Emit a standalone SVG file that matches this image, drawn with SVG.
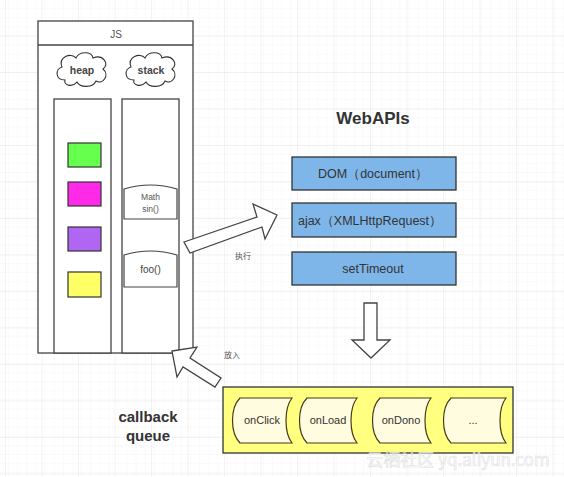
<svg xmlns="http://www.w3.org/2000/svg" width="564" height="477" viewBox="0 0 564 477">
<defs>
<pattern id="minor" width="9.1" height="9.1" patternUnits="userSpaceOnUse" x="0" y="0">
<path d="M9.1 0 V9.1 M0 9.1 H9.1" fill="none" stroke="#f4f4f4" stroke-width="0.8"/>
</pattern>
<pattern id="major" width="36.5" height="36.5" patternUnits="userSpaceOnUse" x="6" y="0">
<path d="M36.5 0 V36.5 M0 36.5 H36.5" fill="none" stroke="#e6e6e6" stroke-width="0.9"/>
</pattern>
<path id="cloud" d="M -17,10 C -27,10 -27,-1 -20,-3 C -24,-13 -11,-18 -6,-12 C -3,-19 10,-19 11,-12 C 21,-16 28,-6 21,-1 C 28,5 21,15 14,11 C 11,18 -2,18 -5,12 C -10,18 -19,15 -17,10 Z"/>
</defs>
<style>
.bg{fill:#ffffff}
.box{fill:#ffffff;stroke:#444;stroke-width:1.3}
.api{fill:#7fb6ea;stroke:#333;stroke-width:1.3}
.sq{stroke:#333;stroke-width:1.2}
.frame{fill:#ffffff;stroke:#444;stroke-width:1.2}
.cb{fill:#fffce0;stroke:#4a3a1a;stroke-width:1.2}
.arrow{fill:#ffffff;stroke:#444;stroke-width:1.3;stroke-linejoin:miter}
.t{font-family:"Liberation Sans","Noto Sans",Arial,sans-serif;fill:#333}
.cn{font-family:"Noto Sans CJK SC","Noto Sans",sans-serif;fill:#555}
</style>
<rect class="bg" width="564" height="477"/>
<rect width="564" height="477" fill="url(#minor)"/>
<rect width="564" height="477" fill="url(#major)"/>

<g id="js">
<rect class="box" x="38" y="21" width="155" height="332"/>
<line x1="38" y1="45" x2="193" y2="45" stroke="#444" stroke-width="1.3"/>
<text class="t" x="116" y="38" font-size="10" text-anchor="middle" style="fill:#555">JS</text>
</g>

<g id="heap-cloud">
<use href="#cloud" transform="translate(82,70)" fill="#fff" stroke="#333" stroke-width="1.1"/>
<text class="t" x="82" y="74" font-size="10.5" font-weight="bold" text-anchor="middle" style="fill:#444">heap</text>
</g>
<g id="stack-cloud">
<use href="#cloud" transform="translate(151,70)" fill="#fff" stroke="#333" stroke-width="1.1"/>
<text class="t" x="151" y="74" font-size="10.5" font-weight="bold" text-anchor="middle" style="fill:#444">stack</text>
</g>

<g id="heap">
<rect class="box" x="54" y="99" width="57" height="254"/>
<rect class="sq" x="68" y="143" width="33" height="24" fill="#66ff4d"/>
<rect class="sq" x="68" y="182" width="33" height="24" fill="#ff2ae8"/>
<rect class="sq" x="68" y="227" width="33" height="24" fill="#b066f2"/>
<rect class="sq" x="68" y="272" width="33" height="25" fill="#ffff66"/>
</g>

<g id="stack">
<rect class="box" x="122" y="99" width="57" height="254"/>
<g id="math-sin">
<path class="frame" d="M124,189 Q150.5,181 177,189 L177,219 L124,219 Z"/>
<text class="t" x="150.5" y="200" font-size="8.5" text-anchor="middle" style="fill:#555">Math</text>
<text class="t" x="150.5" y="212" font-size="8.5" text-anchor="middle" style="fill:#555">sin()</text>
</g>
<g id="foo">
<path class="frame" d="M124,255 Q150.5,247 177,255 L177,287 L124,287 Z"/>
<text class="t" x="150.5" y="273" font-size="10" text-anchor="middle" style="fill:#444">foo()</text>
</g>
</g>

<g id="webapis">
<text class="t" x="373" y="124" font-size="17" font-weight="bold" text-anchor="middle">WebAPIs</text>
<g id="dom">
<rect class="api" x="292" y="157" width="164" height="33"/>
<text class="t" x="373" y="178" font-size="12.5" text-anchor="middle">DOM（document）</text>
</g>
<g id="ajax">
<rect class="api" x="292" y="203" width="164" height="34"/>
<text class="t" x="370" y="224.5" font-size="12.5" text-anchor="middle">ajax（XMLHttpRequest）</text>
</g>
<g id="settimeout">
<rect class="api" x="292" y="252" width="164" height="33"/>
<text class="t" x="373" y="273" font-size="12.5" text-anchor="middle">setTimeout</text>
</g>
</g>

<g id="callback-queue">
<rect x="223" y="387" width="290" height="66" fill="#ffff80" stroke="#333" stroke-width="1.3"/>
<g id="onclick">
<path class="cb" d="M240,398 L292,398 C284,408 284,433 292,443 L240,443 C230,433 230,408 240,398 Z"/>
<text class="t" x="262" y="424" font-size="11" text-anchor="middle">onClick</text>
</g>
<g id="onload">
<path class="cb" d="M307,398 L357,398 C349,408 349,433 357,443 L307,443 C297,433 297,408 307,398 Z"/>
<text class="t" x="328" y="424" font-size="11" text-anchor="middle">onLoad</text>
</g>
<g id="ondono">
<path class="cb" d="M380,398 L431,398 C423,408 423,433 431,443 L380,443 C370,433 370,408 380,398 Z"/>
<text class="t" x="401" y="424" font-size="11" text-anchor="middle">onDono</text>
</g>
<g id="more">
<path class="cb" d="M451,398 L506,398 C498,408 498,433 506,443 L451,443 C441,433 441,408 451,398 Z"/>
<text class="t" x="473" y="424" font-size="11" text-anchor="middle">...</text>
</g>
</g>
<g id="callback-label">
<text class="t" x="148" y="422" font-size="15" font-weight="bold" text-anchor="middle">callback</text>
<text class="t" x="148" y="441" font-size="15" font-weight="bold" text-anchor="middle">queue</text>
</g>

<g id="connectors">
<polygon class="arrow" points="184,242 257,217 253,204 277,215 265,239 262,227 190,253"/>
<text class="cn" x="243" y="259" font-size="8" text-anchor="middle">执行</text>
<polygon class="arrow" points="364,303 377,303 377,340 390,340 371,358 352,340 364,340"/>
<polygon class="arrow" points="172,351 197,347 190,358 221,378 215,387 183,367 177,377"/>
<text class="cn" x="232" y="358" font-size="8" text-anchor="middle">放入</text>
</g>

<text x="458" y="466" font-family="'Noto Sans CJK SC','Liberation Sans',sans-serif" font-size="17" text-anchor="middle" fill="#ffffff" stroke="#d8d8d8" stroke-width="0.6" opacity="0.8">云栖社区 yq.aliyun.com</text>
</svg>
